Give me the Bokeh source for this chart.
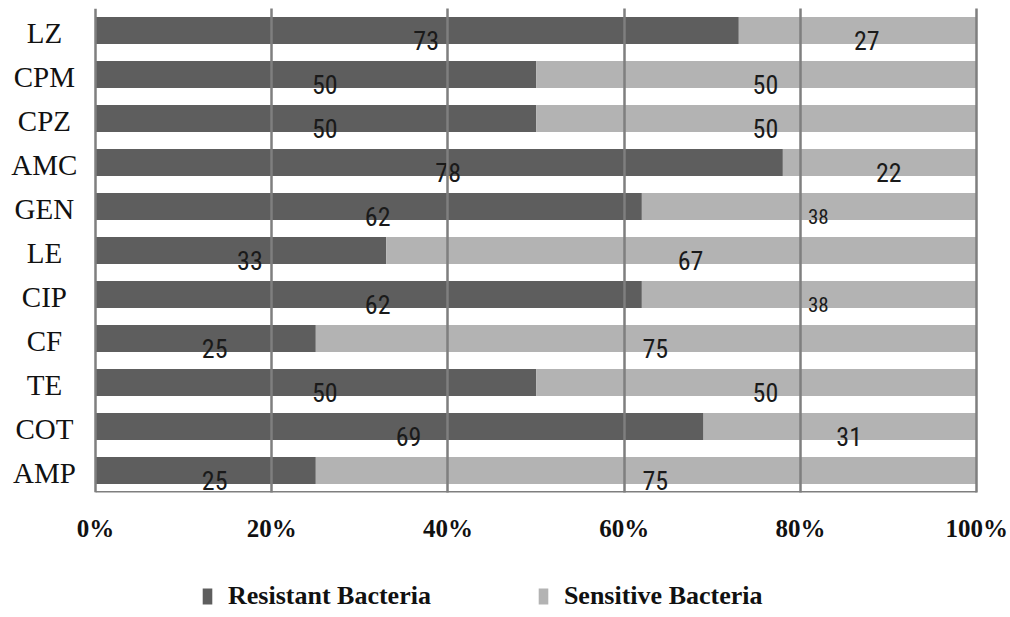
from bokeh.plotting import figure
from bokeh.layouts import column
from bokeh.models import (ColumnDataSource, FactorRange, Range1d, FixedTicker,
                          Legend, LegendItem, Span)
from bokeh.core.properties import value
from bokeh.embed import file_html
from bokeh.resources import INLINE

# Antibiotic susceptibility (% of isolates)
antibiotics = ["LZ", "CPM", "CPZ", "AMC", "GEN", "LE", "CIP", "CF", "TE", "COT", "AMP"]
resistant = [73, 50, 50, 78, 62, 33, 62, 25, 50, 69, 25]
sensitive = [27, 50, 50, 22, 38, 67, 38, 75, 50, 31, 75]
series_names = ["Resistant Bacteria", "Sensitive Bacteria"]
tick_values = [0, 20, 40, 60, 80, 100]
tick_labels = ["0%", "20%", "40%", "60%", "80%", "100%"]

DARK = "#5e5e5e"
LIGHT = "#b3b3b3"
GRID = "#7f7f7f"
SERIF = "Liberation Serif"
NUM_FONT = "Liberation Sans Narrow, Roboto Condensed, Roboto"
LABEL_X = -5.8  # centre of the category names, left of the 0% line

src = ColumnDataSource(dict(cat=antibiotics, res=resistant, sen=sensitive))

# the frame reaches the left edge so the category names can be centred
p = figure(width=1010, height=560,
           y_range=FactorRange(factors=list(reversed(antibiotics))),
           x_range=Range1d(-10.78, 100.2),
           output_backend="svg", toolbar_location=None,
           min_border_left=0, min_border_right=32,
           min_border_top=8, min_border_bottom=68)
p.outline_line_color = None
p.background_fill_color = "white"
p.yaxis.visible = False

p.hbar_stack(["res", "sen"], y="cat", height=0.61, color=[DARK, LIGHT],
             line_color=None, source=src)

# category names
p.text(x=LABEL_X, y=antibiotics, text=antibiotics, text_font=value(SERIF),
       text_font_size="29px", text_color="#111111", text_align="center",
       text_baseline="middle", y_offset=2)

# value labels at the middle of each segment
lab_x, lab_y, lab_t, lab_s = [], [], [], []
for c, r, s in zip(antibiotics, resistant, sensitive):
    lab_x += [r / 2, r + s / 2]
    lab_y += [c, c]
    lab_t += [str(r), str(s)]
    lab_s += ["21px" if r == 38 else "26px", "21px" if s == 38 else "26px"]
lsrc = ColumnDataSource(dict(x=lab_x, y=lab_y, t=lab_t, s=lab_s))
p.text(x="x", y="y", text="t", source=lsrc, text_font=value(NUM_FONT),
       text_font_size="s", text_color="#1a1a1a", text_align="center",
       text_baseline="middle", x_offset=9, y_offset=10)

# grid drawn over the bars
p.ygrid.visible = False
p.xgrid.ticker = FixedTicker(ticks=[20, 40, 60, 80, 100])
p.xgrid.grid_line_color = GRID
p.xgrid.grid_line_width = 2.5
p.xgrid.level = "annotation"

# 0% axis line and baseline
p.add_layout(Span(location=0, dimension="height", line_color=GRID,
                  line_width=2.5, level="annotation"))
p.segment(x0=0, x1=100, y0=0, y1=0, line_color=GRID, line_width=3)

xa = p.xaxis[0]
xa.ticker = FixedTicker(ticks=tick_values)
xa.major_label_overrides = dict(zip(tick_values, tick_labels))
xa.axis_line_color = None
xa.major_tick_line_color = None
xa.minor_tick_line_color = None
xa.major_label_standoff = 16
xa.major_label_text_font = SERIF
xa.major_label_text_font_style = "bold"
xa.major_label_text_font_size = "25px"
xa.major_label_text_color = "#111111"

# legend strip under the chart; the swatch renderers sit outside its view
leg = figure(width=1010, height=57, x_range=Range1d(0, 1), y_range=Range1d(0, 1),
             output_backend="svg", toolbar_location=None,
             min_border_left=0, min_border_right=0,
             min_border_top=0, min_border_bottom=0)
leg.outline_line_color = None
leg.axis.visible = False
leg.grid.visible = False
swatches = [leg.hbar(y=[-5], left=[0], right=[1], height=1, color=c,
                     line_color=None) for c in (DARK, LIGHT)]
legend = Legend(items=[LegendItem(label=n, renderers=[r])
                       for n, r in zip(series_names, swatches)],
                orientation="horizontal", location=(201, 6),
                padding=0, margin=0, spacing=106, border_line_color=None,
                background_fill_alpha=0, glyph_width=12, glyph_height=20,
                label_standoff=15, label_text_font=SERIF,
                label_text_font_style="bold", label_text_font_size="26px",
                label_text_color="#111111")
leg.add_layout(legend, "center")

open("out.html", "w").write(file_html(column(p, leg, spacing=0), INLINE))
